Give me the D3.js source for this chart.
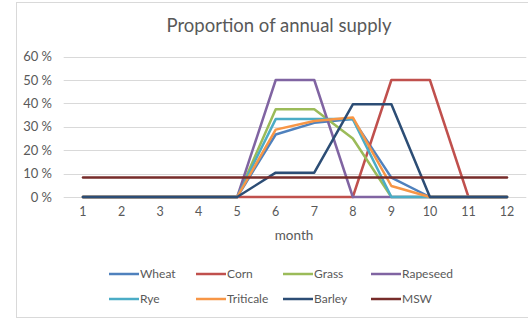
<!DOCTYPE html>
<html>
<head>
<meta charset="utf-8">
<script src="https://cdn.jsdelivr.net/npm/d3@7"></script>
<style>
  html, body { margin: 0; padding: 0; background: #fff; }
  svg { display: block; }
  text { font-family: Lato, "Open Sans", sans-serif; fill: #595959; }
</style>
</head>
<body>
<svg id="chart" width="528" height="320"></svg>
<script>
// Months on the category axis
const months = [1, 2, 3, 4, 5, 6, 7, 8, 9, 10, 11, 12];

// Share of the yearly supply delivered each month, per feedstock (%)
const wheat     = [0, 0, 0, 0, 0, 26.7, 31.7, 33.3, 8.3, 0, 0, 0];
const corn      = [0, 0, 0, 0, 0, 0, 0, 0, 50, 50, 0, 0];
const grass     = [0, 0, 0, 0, 0, 37.5, 37.5, 25, 0, 0, 0, 0];
const rapeseed  = [0, 0, 0, 0, 0, 50, 50, 0, 0, 0, 0, 0];
const rye       = [0, 0, 0, 0, 0, 33.3, 33.3, 33.3, 0, 0, 0, 0];
const triticale = [0, 0, 0, 0, 0, 28.8, 32.5, 34.0, 4.7, 0, 0, 0];
const barley    = [0, 0, 0, 0, 0, 10.4, 10.4, 39.6, 39.6, 0, 0, 0];
const msw       = [8.33, 8.33, 8.33, 8.33, 8.33, 8.33, 8.33, 8.33, 8.33, 8.33, 8.33, 8.33];

const seriesNames = ["Wheat", "Corn", "Grass", "Rapeseed", "Rye", "Triticale", "Barley", "MSW"];
const seriesValues = [wheat, corn, grass, rapeseed, rye, triticale, barley, msw];
const seriesColors = ["#4F81BD", "#C0504D", "#9BBB59", "#8064A2", "#4BACC6", "#F79646", "#2C4D75", "#772C2A"];

const yTicks = [0, 10, 20, 30, 40, 50, 60];
const title = "Proportion of annual supply";
const xTitle = "month";

const svg = d3.select("#chart");

// Outer frame (left, top, bottom edges)
const frame = svg.append("g").attr("stroke", "#d9d9d9").attr("stroke-width", 1);
frame.append("line").attr("x1", 16.5).attr("x2", 16.5).attr("y1", 2).attr("y2", 318);
frame.append("line").attr("x1", 16).attr("x2", 528).attr("y1", 2.5).attr("y2", 2.5);
frame.append("line").attr("x1", 16).attr("x2", 528).attr("y1", 317.5).attr("y2", 317.5);

// Scales
const x = d3.scaleBand().domain(months).range([63.7, 526.3]);
const xc = m => x(m) + x.bandwidth() / 2;
const y = d3.scaleLinear().domain([0, 60]).range([197, 56.6]);

// Horizontal gridlines
svg.append("g")
  .selectAll("line")
  .data(yTicks)
  .join("line")
  .attr("x1", 63.7).attr("x2", 526.3)
  .attr("y1", d => Math.round(y(d)) + 0.5).attr("y2", d => Math.round(y(d)) + 0.5)
  .attr("stroke", "#d9d9d9").attr("stroke-width", 1);

// Y axis labels
const yAxis = d3.axisLeft(y).tickValues(yTicks).tickSize(0).tickPadding(0)
  .tickFormat(d => d + " %");
svg.append("g")
  .attr("transform", "translate(52,0)")
  .call(yAxis)
  .call(g => g.select(".domain").remove())
  .call(g => g.selectAll("text")
    .attr("font-family", "Lato, 'Open Sans', sans-serif")
    .attr("font-size", 13).attr("fill", "#595959"));

// X axis labels
const xAxis = d3.axisBottom(x).tickSize(0).tickPadding(0);
svg.append("g")
  .attr("transform", "translate(0,207)")
  .call(xAxis)
  .call(g => g.select(".domain").remove())
  .call(g => g.selectAll("text")
    .attr("font-family", "Lato, 'Open Sans', sans-serif")
    .attr("font-size", 12.5).attr("fill", "#595959"));

// Axis title and chart title
svg.append("text")
  .attr("x", 294).attr("y", 240)
  .attr("text-anchor", "middle")
  .attr("font-size", 13.5)
  .text(xTitle);

svg.append("text")
  .attr("x", 279).attr("y", 32)
  .attr("text-anchor", "middle")
  .attr("font-size", 18.5)
  .text(title);

// Series lines
const line = d3.line()
  .x((d, i) => xc(months[i]))
  .y(d => y(d));

svg.append("g")
  .selectAll("path")
  .data(seriesValues)
  .join("path")
  .attr("d", d => line(d))
  .attr("fill", "none")
  .attr("stroke", (d, i) => seriesColors[i])
  .attr("stroke-width", 2.5)
  .attr("stroke-linejoin", "round")
  .attr("stroke-linecap", "round");

// Legend, two rows of four
const legend = svg.append("g");
const colX = [109, 196, 283, 371];
const rowY = [274, 299];
seriesNames.forEach((name, i) => {
  const lx = colX[i % 4], ly = rowY[Math.floor(i / 4)];
  const item = legend.append("g");
  item.append("line")
    .attr("x1", lx).attr("x2", lx + 30)
    .attr("y1", ly).attr("y2", ly)
    .attr("stroke", seriesColors[i]).attr("stroke-width", 2.5);
  item.append("text")
    .attr("x", lx + 31).attr("y", ly + 4.3)
    .attr("font-size", 12)
    .text(name);
});
</script>
</body>
</html>
